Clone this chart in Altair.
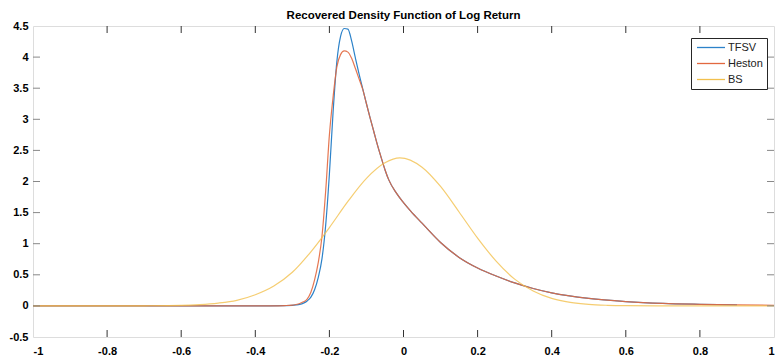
import altair as alt
import pandas as pd

series_names = ["TFSV", "Heston", "BS"]
series_colors = ["#2C82C9", "#E2683F", "#F2C04E"]

x_tfsv = [-1.0, -0.8, -0.6, -0.45, -0.36, -0.32, -0.30, -0.29, -0.28, -0.27, -0.26, -0.25, -0.24, -0.23,
          -0.22, -0.21, -0.20, -0.19, -0.18, -0.17, -0.16, -0.15, -0.14, -0.13, -0.12, -0.11, -0.10, -0.09,
          -0.08, -0.07, -0.06, -0.05, -0.04, -0.02, 0.0, 0.02, 0.05, 0.10, 0.15, 0.20, 0.25, 0.30, 0.35,
          0.40, 0.50, 0.60, 0.70, 0.80, 0.90]
y_tfsv = [0, 0, 0, 0, 0.001, 0.004, 0.008, 0.015, 0.025, 0.045, 0.08, 0.14, 0.26, 0.46,
          0.76, 1.30, 2.12, 3.12, 3.92, 4.33, 4.46, 4.45, 4.26, 3.99, 3.73, 3.49, 3.25, 3.02,
          2.80, 2.58, 2.38, 2.19, 2.03, 1.82, 1.66, 1.52, 1.33, 1.02, 0.78, 0.61, 0.48, 0.37, 0.28,
          0.21, 0.12, 0.07, 0.04, 0.025, 0.015]

x_heston = [-1.0, -0.8, -0.6, -0.45, -0.36, -0.32, -0.30, -0.29, -0.28, -0.27, -0.26, -0.25, -0.24, -0.23,
            -0.22, -0.21, -0.20, -0.19, -0.18, -0.17, -0.16, -0.15, -0.14, -0.13, -0.12, -0.11, -0.10, -0.09,
            -0.08, -0.07, -0.06, -0.05, -0.04, -0.02, 0.0, 0.02, 0.05, 0.10, 0.15, 0.20, 0.25, 0.30, 0.35,
            0.40, 0.50, 0.60, 0.70, 0.80, 0.90, 1.0]
y_heston = [0, 0, 0, 0, 0.002, 0.006, 0.012, 0.022, 0.038, 0.065, 0.11, 0.22, 0.42, 0.70,
            1.12, 1.85, 2.75, 3.36, 3.84, 4.04, 4.10, 4.08, 3.98, 3.82, 3.65, 3.48, 3.25, 3.02,
            2.80, 2.58, 2.38, 2.19, 2.03, 1.82, 1.66, 1.52, 1.33, 1.02, 0.78, 0.61, 0.48, 0.37, 0.28,
            0.21, 0.12, 0.07, 0.04, 0.025, 0.015, 0.01]

x_bs = [-1.0, -0.8, -0.7, -0.6, -0.55, -0.5, -0.45, -0.4, -0.35, -0.3, -0.25, -0.2, -0.15, -0.1, -0.05,
        -0.01, 0.05, 0.1, 0.15, 0.2, 0.25, 0.3, 0.35, 0.4, 0.45, 0.5, 0.55, 0.6, 0.7, 0.8, 1.0]
y_bs = [0, 0, 0.002, 0.008, 0.02, 0.045, 0.09, 0.18, 0.32, 0.54, 0.87, 1.26, 1.68, 2.05, 2.30,
        2.38, 2.23, 1.92, 1.51, 1.09, 0.72, 0.43, 0.24, 0.12, 0.056, 0.024, 0.01, 0.004, 0.001, 0, 0]

x_ticks = [-1, -0.8, -0.6, -0.4, -0.2, 0, 0.2, 0.4, 0.6, 0.8, 1]
y_ticks = [-0.5, 0, 0.5, 1, 1.5, 2, 2.5, 3, 3.5, 4, 4.5]

rows = []
for name, xs, ys in [("TFSV", x_tfsv, y_tfsv), ("Heston", x_heston, y_heston), ("BS", x_bs, y_bs)]:
    for i, (a, b) in enumerate(zip(xs, ys)):
        rows.append({"series": name, "x": a, "y": b, "order": i})
df = pd.DataFrame(rows)

W, H = 741, 311
FONT = "Liberation Sans"
TL = 7

xscale = alt.Scale(domain=[-1, 1], nice=False, zero=False)
yscale = alt.Scale(domain=[-0.5, 4.5], nice=False, zero=False)

lab = "datum.value < 0 ? '-' + format(-datum.value, '~g') : format(datum.value, '~g')"

x_axis = alt.Axis(values=x_ticks, ticks=False, domain=False, grid=False, title=None,
                  labelFont=FONT, labelFontWeight="bold", labelFontSize=11, labelColor="black",
                  labelPadding=8, labelExpr=lab)
y_axis = alt.Axis(values=y_ticks, ticks=False, domain=False, grid=False, title=None,
                  labelFont=FONT, labelFontWeight="bold", labelFontSize=11, labelColor="black",
                  labelPadding=5, labelExpr=lab)

lines = alt.Chart(df).mark_line(strokeWidth=1.2, interpolate="monotone").encode(
    x=alt.X("x:Q", scale=xscale, axis=x_axis, title=None),
    y=alt.Y("y:Q", scale=yscale, axis=y_axis, title=None),
    color=alt.Color("series:N", scale=alt.Scale(domain=series_names, range=series_colors),
                    legend=alt.Legend(title=None, orient="none", legendX=658, legendY=12,
                                      symbolType="M-4,0H4", symbolSize=49, symbolOffset=10.5,
                                      symbolStrokeWidth=1.3,
                                      labelFont=FONT, labelFontSize=11, labelColor="#222222",
                                      labelOffset=11.5, rowPadding=4, padding=4,
                                      strokeColor="#262626", fillColor="white")),
    strokeOpacity=alt.StrokeOpacity("series:N",
                                    scale=alt.Scale(domain=series_names, range=[1.0, 0.8, 1.0]),
                                    legend=None),
    order="order:Q",
)

xt = pd.DataFrame({"x": x_ticks[1:-1]})
yt = pd.DataFrame({"y": y_ticks[1:-1]})

x_bottom = alt.Chart(xt).mark_rule(color="#333333", strokeWidth=1).encode(
    x=alt.X("x:Q", scale=xscale, axis=x_axis, title=None), y=alt.value(H), y2=alt.value(H - TL))
x_top = alt.Chart(xt).mark_rule(color="#333333", strokeWidth=1).encode(
    x=alt.X("x:Q", scale=xscale, axis=x_axis, title=None), y=alt.value(0), y2=alt.value(TL))
y_left = alt.Chart(yt).mark_rule(color="#888888", strokeWidth=1).encode(
    y=alt.Y("y:Q", scale=yscale, axis=y_axis, title=None), x=alt.value(0), x2=alt.value(TL))
y_right = alt.Chart(yt).mark_rule(color="#888888", strokeWidth=1).encode(
    y=alt.Y("y:Q", scale=yscale, axis=y_axis, title=None), x=alt.value(W), x2=alt.value(W - TL))

chart = alt.layer(lines, x_bottom, x_top, y_left, y_right).properties(
    width=W, height=H,
    title=alt.Title("Recovered Density Function of Log Return", font=FONT, fontSize=11.5,
                    fontWeight="bold", color="black", anchor="middle", offset=-1),
    padding={"left": 33, "top": 26, "right": 3, "bottom": 20},
    autosize="none",
).configure_view(stroke="#262626", strokeWidth=1).configure(background="white")

chart.save("out.html", embed_options={"renderer": "svg", "actions": False})
